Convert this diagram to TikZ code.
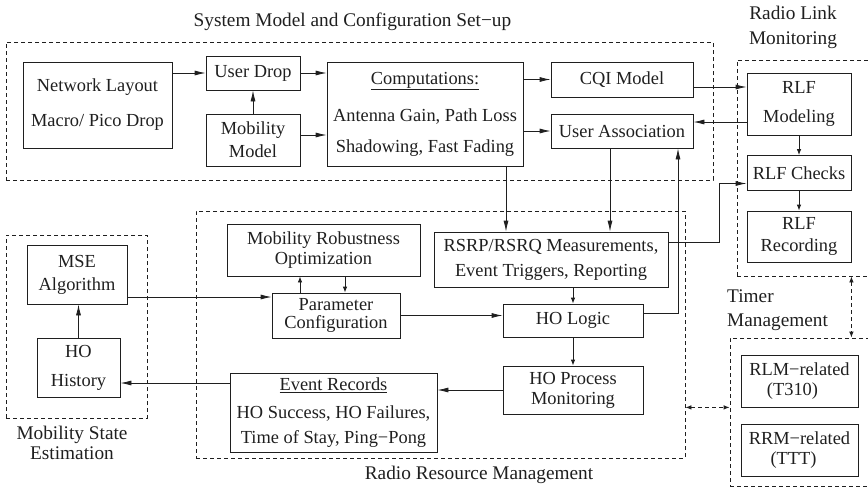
\documentclass[tikz,border=0pt]{standalone}
\usepackage{fontspec}
\setmainfont{Liberation Serif}
\usetikzlibrary{arrows.meta,calc}
\definecolor{ink}{gray}{0.12}
\begin{document}
\begin{tikzpicture}[x=1pt, y=-1pt,
  every node/.style={font=\fontsize{18.4pt}{19.6pt}\selectfont, text=ink},
  box/.style={draw=ink, line width=0.8pt, inner sep=0pt, align=center},
  dbox/.style={draw=ink, line width=0.8pt, dash pattern=on 4pt off 3pt, inner sep=0pt},
  lbl/.style={inner sep=0pt, align=center, font=\fontsize{19.3pt}{20.5pt}\selectfont},
  arr/.style={draw=ink, line width=0.8pt, -{Latex[length=11pt,width=5pt]}},
  sarr/.style={draw=ink, line width=0.8pt, -{Latex[length=6pt,width=4.5pt]}},
  darr/.style={draw=ink, line width=0.8pt, dash pattern=on 4pt off 3pt,
    {Latex[length=6pt,width=4.5pt]}-{Latex[length=6pt,width=4.5pt]}}]
\useasboundingbox (0,0) rectangle (868,488);
\clip (0,0) rectangle (868,488);

% group frames
\node[dbox, minimum width=707, minimum height=138] (sysm) at (359.5,111) {};
\node[dbox, minimum width=143, minimum height=216] (rlm)  at (808.5,168) {};
\node[dbox, minimum width=141, minimum height=183] (mse)  at (76.5,326.5) {};
\node[dbox, minimum width=489, minimum height=247] (rrm)  at (440.5,334.5) {};
\node[dbox, minimum width=150, minimum height=148] (tmr)  at (805,412) {};

% group titles
\node[lbl] (tsys) at (352.5,22) {System Model and Configuration Set−up};
\node[lbl] (trlm) at (793,27.5) {Radio Link\\[4.5pt]Monitoring};
\node[lbl] (tmse) at (72,443) {Mobility State\\[-0.5pt]Estimation};
\node[lbl] (trrm) at (479,475) {Radio Resource Management};
\node[lbl, anchor=west, align=left] (ttmr) at (727,310) {Timer\\[3.5pt]Management};

% system model and configuration
\node[box, minimum width=149, minimum height=86] (net) at (97.5,105) {Network Layout\\[15.5pt]Macro/ Pico Drop};
\node[box, minimum width=94, minimum height=34] (ud) at (253,73) {User Drop};
\node[box, minimum width=94, minimum height=52] (mob) at (253,140) {Mobility\\[3.5pt]Model};
\node[box, minimum width=196, minimum height=104] (comp) at (425,114)
  {\underline{Computations:}\\[17.5pt]Antenna Gain, Path Loss\\[11.5pt]Shadowing, Fast Fading};
\node[box, minimum width=142, minimum height=35] (cqi) at (622,79.5) {CQI Model};
\node[box, minimum width=142, minimum height=34] (ua) at (622,131) {User Association};

% radio link monitoring
\node[box, minimum width=104, minimum height=62] (rlfm) at (799,104) {RLF\\[8.5pt]Modeling};
\node[box, minimum width=104, minimum height=35] (rlfc) at (799,173) {RLF Checks};
\node[box, minimum width=104, minimum height=51] (rlfr) at (799,236.5) {RLF\\[1.5pt]Recording};

% mobility state estimation
\node[box, minimum width=100, minimum height=59] (msea) at (77,274.5) {MSE\\[3.5pt]Algorithm};
\node[box, minimum width=83, minimum height=59] (hoh) at (78.5,367.5) {HO\\[9.5pt]History};

% radio resource management
\node[box, minimum width=193, minimum height=52] (mro) at (323.5,250) {Mobility Robustness\\[0.5pt]Optimization};
\node[box, minimum width=234, minimum height=55] (rsrp) at (551,259.5) {RSRP/RSRQ Measurements,\\[5.5pt]Event Triggers, Reporting};
\node[box, minimum width=128, minimum height=45] (param) at (336,315.5) {Parameter\\[-1.5pt]Configuration};
\node[box, minimum width=140, minimum height=33] (hol) at (573,320.5) {HO Logic};
\node[box, minimum width=140, minimum height=48] (hop) at (573,390) {HO Process\\[0.5pt]Monitoring};
\node[box, minimum width=207, minimum height=79] (er) at (333.5,412.5)
  {\underline{Event Records}\\[8.5pt]HO Success, HO Failures,\\[4.5pt]Time of Stay, Ping−Pong};

% timer management
\node[box, minimum width=117, minimum height=52] (rlmr) at (799.5,381) {RLM−related\\[0.5pt](T310)\hspace*{14pt}};
\node[box, minimum width=117, minimum height=52] (rrmr) at (799.5,450) {RRM−related\\[0.5pt](TTT)\hspace*{12pt}};

% connectors: system model
\draw[arr] (net.east |- ud.west) -- (ud.west);
\draw[arr] (ud.east) -- (ud.east -| comp.west);
\draw[arr] (mob.north) -- (ud.south);
\coordinate (p1) at ($(mob.east)+(0,-5)$);
\draw[arr] (p1) -- (p1 -| comp.west);
\draw[arr] (comp.east |- cqi.west) -- (cqi.west);
\draw[arr] (comp.east |- ua.west) -- (ua.west);

% connectors: radio link monitoring
\coordinate (p2) at ($(cqi.east)+(0,7.5)$);
\draw[arr] (p2) -- (p2 -| rlfm.west);
\coordinate (p3) at ($(rlfm.west)+(0,18)$);
\draw[arr] (p3) -- (p3 -| ua.east);
\draw[sarr] (rlfm.south) -- (rlfc.north);
\draw[sarr] (rlfc.south) -- (rlfr.north);
\coordinate (p4) at ($(rsrp.east)+(0,-17.5)$);
\coordinate (p4b) at ($(rlfc.west)+(0,10.5)$);
\draw[arr] (p4) -- ++(51,0) |- (p4b);

% connectors: into and out of radio resource management
\coordinate (p5) at ($(comp.south)+(81,0)$);
\draw[arr] (p5) -- (p5 |- rsrp.north);
\coordinate (p6) at ($(ua.south)+(-12,0)$);
\draw[arr] (p6) -- (p6 |- rsrp.north);
\coordinate (p7) at ($(hol.east)+(0,-7.5)$);
\coordinate (p7b) at ($(ua.south)+(56,0)$);
\draw[arr] (p7) -| (p7b);
\coordinate (p8) at ($(param.north)+(-36,0)$);
\draw[sarr] (p8) -- (p8 |- mro.south);
\coordinate (p9) at ($(param.north)+(9,0)$);
\draw[sarr] (p9 |- mro.south) -- (p9);
\coordinate (p10) at ($(msea.east)+(0,22.5)$);
\draw[arr] (p10) -- (p10 -| param.west);
\draw[sarr] (hol.north |- rsrp.south) -- (hol.north);
\draw[arr] (param.east) -- (param.east -| hol.west);
\draw[sarr] (hol.south) -- (hop.north);
\draw[arr] (hop.west) -- (hop.west -| er.east);
\coordinate (p11) at ($(er.west)+(0,-29.5)$);
\draw[arr] (p11) -- (p11 -| hoh.east);
\draw[arr] (hoh.north) -- (hoh.north |- msea.south);

% timer management links
\draw[darr] (rlm.south -| rlfr.east) -- (tmr.north -| rlfr.east);
\draw[darr] (rrm.east |- rlmr.south) -- (tmr.west |- rlmr.south);
\end{tikzpicture}
\end{document}
